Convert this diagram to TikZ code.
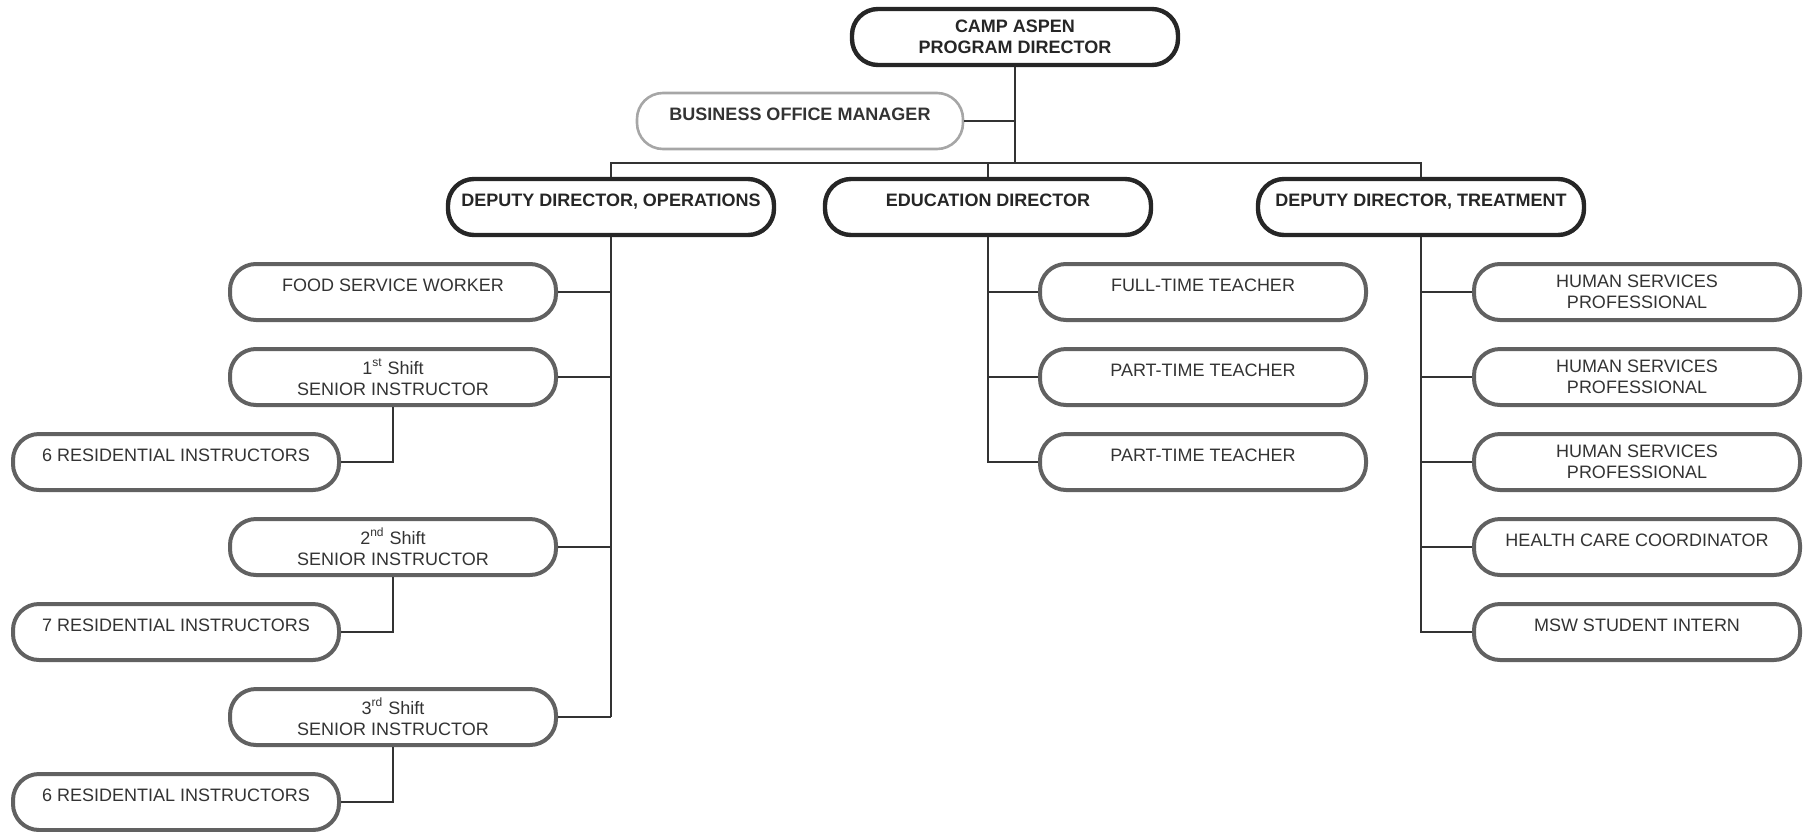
\documentclass[tikz,border=0pt]{standalone}
\usepackage{fontspec}
\setmainfont{Liberation Sans}
\usepackage{xcolor}
\usepackage{tikz}
\usetikzlibrary{positioning}

\begin{document}
\begin{tikzpicture}[x=0.5pt, y=-0.5pt, node distance=12.5pt,
  every node/.style={font=\fontsize{9}{10.5}\selectfont, align=center},
  headbox/.style={draw=black!85, line width=2.2pt, rounded corners=13pt, minimum width=163pt, minimum height=28pt, font=\fontsize{9}{10.5}\selectfont\bfseries, text=black!85},
  staffbox/.style={draw=black!62, line width=2pt, rounded corners=13pt, minimum width=163pt, minimum height=28pt, text=black!80},
  onel/.style={text height=6.5pt, text depth=7pt},
  link/.style={draw=black!80, line width=0.8pt}]
\useasboundingbox (0,0) rectangle (1811,831);

% top of the chart
\node[headbox] (camp) at (1015,37) {CAMP ASPEN\\PROGRAM DIRECTOR};
\node[headbox, onel, draw=black!35, line width=1.3pt, text=black!80] (bom) at (800,121) {BUSINESS OFFICE MANAGER};
\node[headbox, onel] (ddo) at (611,207) {DEPUTY DIRECTOR, OPERATIONS};
\node[headbox, onel] (ed) at (988,207) {EDUCATION DIRECTOR};
\node[headbox, onel] (ddt) at (1421,207) {DEPUTY DIRECTOR, TREATMENT};
\coordinate (bus) at (1015,163);

% operations
\node[staffbox, onel] (food) at (393,292) {FOOD SERVICE WORKER};
\node[staffbox, below=of food] (sen1) {1\textsuperscript{st} Shift\\SENIOR INSTRUCTOR};
\node[staffbox, below=55pt of sen1] (sen2) {2\textsuperscript{nd} Shift\\SENIOR INSTRUCTOR};
\node[staffbox, below=55pt of sen2] (sen3) {3\textsuperscript{rd} Shift\\SENIOR INSTRUCTOR};
\node[staffbox, onel] (res1) at (176,462) {6 RESIDENTIAL INSTRUCTORS};
\node[staffbox, onel] (res2) at (176,632) {7 RESIDENTIAL INSTRUCTORS};
\node[staffbox, onel] (res3) at (176,802) {6 RESIDENTIAL INSTRUCTORS};

% education
\node[staffbox, onel] (ftt) at (1203,292) {FULL-TIME TEACHER};
\node[staffbox, onel, below=of ftt] (ptt1) {PART-TIME TEACHER};
\node[staffbox, onel, below=of ptt1] (ptt2) {PART-TIME TEACHER};

% treatment
\node[staffbox] (hsp1) at (1637,292) {HUMAN SERVICES\\PROFESSIONAL};
\node[staffbox, below=of hsp1] (hsp2) {HUMAN SERVICES\\PROFESSIONAL};
\node[staffbox, below=of hsp2] (hsp3) {HUMAN SERVICES\\PROFESSIONAL};
\node[staffbox, onel, below=of hsp3] (hcc) {HEALTH CARE COORDINATOR};
\node[staffbox, onel, below=of hcc] (msw) {MSW STUDENT INTERN};

% lines
\draw[link] (camp.south) -- (camp.south |- bus);
\draw[link] (bom.east) -- (bom.east -| camp.south);
\draw[link] (ddo.north) |- (bus) -| (ddt.north);
\draw[link] (ed.north) -- (ed.north |- bus);
\draw[link] (ddo.south) -- (ddo.south |- sen3.east);
\draw[link] (food.east) -- (food.east -| ddo.south);
\draw[link] (sen1.east) -- (sen1.east -| ddo.south);
\draw[link] (sen2.east) -- (sen2.east -| ddo.south);
\draw[link] (sen3.east) -- (sen3.east -| ddo.south);
\draw[link] (sen1.south) |- (res1.east);
\draw[link] (sen2.south) |- (res2.east);
\draw[link] (sen3.south) |- (res3.east);
\draw[link] (ed.south) |- (ptt2.west);
\draw[link] (ftt.west) -- (ftt.west -| ed.south);
\draw[link] (ptt1.west) -- (ptt1.west -| ed.south);
\draw[link] (ddt.south) |- (msw.west);
\draw[link] (hsp1.west) -- (hsp1.west -| ddt.south);
\draw[link] (hsp2.west) -- (hsp2.west -| ddt.south);
\draw[link] (hsp3.west) -- (hsp3.west -| ddt.south);
\draw[link] (hcc.west) -- (hcc.west -| ddt.south);
\end{tikzpicture}
\end{document}
